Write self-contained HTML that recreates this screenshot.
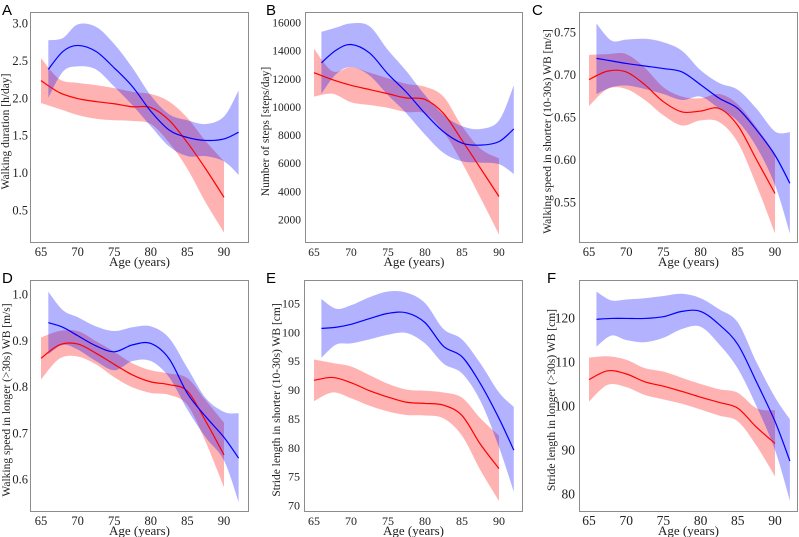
<!DOCTYPE html>
<html><head><meta charset="utf-8"><style>
body{margin:0;background:#fff}
svg{display:block}
text{font-family:"Liberation Serif",serif;fill:#222}
.lt{font-family:"Liberation Sans",sans-serif;font-size:15px;fill:#000}
</style></head><body>
<svg id="fig" width="799" height="537" viewBox="0 0 799 537" xmlns="http://www.w3.org/2000/svg"></svg>
<script>
const redAge=[65,67.5,70,72.5,75,77.5,80,82.5,85,87.5,90];
const blueAge=[66,68,70,72.5,75,77.5,80,82.5,85,87.5,90,92];
const xTicks=[65,70,75,80,85,90];

const aRedMean=[2.23,2.07,1.99,1.95,1.92,1.88,1.87,1.70,1.40,1.05,0.67];
const aRedLo=[1.93,1.85,1.77,1.72,1.70,1.69,1.65,1.40,1.05,0.60,0.20];
const aRedHi=[2.53,2.25,2.20,2.17,2.13,2.08,2.05,1.95,1.73,1.42,1.15];
const aBlueMean=[2.38,2.62,2.70,2.62,2.40,2.15,1.82,1.57,1.47,1.43,1.45,1.54];
const aBlueLo=[2.0,2.35,2.42,2.38,2.15,1.90,1.62,1.35,1.22,1.22,1.15,0.97];
const aBlueHi=[2.77,2.80,2.98,2.95,2.72,2.40,2.03,1.78,1.70,1.65,1.75,2.10];
const aTicks=[0.5,1.0,1.5,2.0,2.5,3.0];

const bRedMean=[12400,11900,11500,11200,10900,10600,10500,9500,7600,5600,3600];
const bRedLo=[10700,10900,10300,10100,9900,9600,9500,8200,6000,3500,900];
const bRedHi=[14100,12500,12800,12400,12000,11600,11400,10700,8600,7000,6300];
const bBlueMean=[13100,14000,14400,13800,12300,11000,9500,8200,7400,7250,7500,8400];
const bBlueLo=[10900,12300,12800,12200,10800,9500,8000,6700,6100,6000,5900,5200];
const bBlueHi=[15300,15600,15900,15700,14000,12500,10800,9400,8600,8400,9000,11500];
const bTicks=[2000,4000,6000,8000,10000,12000,14000,16000];

const cRedMean=[0.694,0.704,0.703,0.688,0.668,0.656,0.657,0.660,0.640,0.600,0.560];
const cRedLo=[0.663,0.683,0.683,0.670,0.652,0.640,0.646,0.644,0.620,0.570,0.513];
const cRedHi=[0.723,0.724,0.724,0.708,0.685,0.674,0.672,0.677,0.665,0.638,0.607];
const cBlueMean=[0.719,0.716,0.713,0.710,0.707,0.703,0.688,0.672,0.660,0.635,0.605,0.572];
const cBlueLo=[0.677,0.685,0.687,0.683,0.677,0.670,0.674,0.660,0.645,0.615,0.570,0.513];
const cBlueHi=[0.760,0.740,0.741,0.742,0.738,0.728,0.705,0.690,0.682,0.660,0.633,0.632];
const cTicks=[0.55,0.60,0.65,0.70,0.75];

const dRedMean=[0.861,0.890,0.892,0.872,0.848,0.825,0.810,0.804,0.790,0.725,0.652];
const dRedLo=[0.815,0.860,0.865,0.848,0.820,0.798,0.786,0.782,0.760,0.680,0.582];
const dRedHi=[0.906,0.920,0.920,0.898,0.875,0.850,0.835,0.828,0.818,0.770,0.722];
const dBlueMean=[0.938,0.928,0.910,0.888,0.875,0.890,0.893,0.860,0.785,0.735,0.690,0.645];
const dBlueLo=[0.870,0.890,0.880,0.855,0.835,0.855,0.855,0.820,0.750,0.690,0.640,0.550];
const dBlueHi=[1.005,0.965,0.950,0.930,0.920,0.928,0.930,0.905,0.840,0.775,0.745,0.742];
const dTicks=[0.6,0.7,0.8,0.9,1.0];

const eRedMean=[91.6,92.1,91.2,89.8,88.7,87.8,87.6,87.3,85.5,80.5,76.3];
const eRedLo=[88.0,89.5,88.5,87.2,86.2,85.6,85.5,85.0,82.0,76.0,70.7];
const eRedHi=[95.2,94.6,94.0,92.5,91.0,90.0,89.8,89.5,88.6,85.0,82.0];
const eBlueMean=[100.6,100.8,101.3,102.3,103.2,103.3,101.6,97.5,95.7,91.0,85.0,79.5];
const eBlueLo=[95.5,97.8,98.0,98.7,99.5,99.8,98.0,94.5,92.8,88.0,80.0,72.3];
const eBlueHi=[105.7,104.0,104.6,106.0,107.0,106.8,105.0,100.5,98.7,94.5,89.5,87.0];
const eTicks=[70,75,80,85,90,95,100,105];

const fRedMean=[106.0,108.0,107.3,105.5,104.5,103.3,102.0,100.8,99.5,95.2,91.5];
const fRedLo=[101.0,104.8,104.3,102.5,101.5,100.5,99.2,97.8,96.5,91.0,84.0];
const fRedHi=[111.0,111.3,110.5,108.6,107.8,106.4,105.0,103.8,103.0,99.5,99.0];
const fBlueMean=[119.7,119.9,119.9,119.9,120.3,121.5,121.5,118.5,114.0,105.5,96.5,87.5];
const fBlueLo=[113.5,116.0,115.0,114.5,115.5,117.5,118.0,114.0,108.5,100.0,90.0,78.5];
const fBlueHi=[126.0,124.0,124.2,124.5,125.0,125.5,124.5,122.0,119.0,110.0,102.0,97.0];
const fTicks=[80,90,100,110,120];

const NS='http://www.w3.org/2000/svg';
const svg=document.getElementById('fig');
function mk(tag,attrs,parent){const e=document.createElementNS(NS,tag);for(const k in attrs)e.setAttribute(k,attrs[k]);(parent||svg).appendChild(e);return e;}
function smooth(pts){let d='M'+pts[0][0].toFixed(2)+','+pts[0][1].toFixed(2);
 for(let i=0;i<pts.length-1;i++){const p0=pts[Math.max(0,i-1)],p1=pts[i],p2=pts[i+1],p3=pts[Math.min(pts.length-1,i+2)];
  const c1=[p1[0]+(p2[0]-p0[0])/6,p1[1]+(p2[1]-p0[1])/6],c2=[p2[0]-(p3[0]-p1[0])/6,p2[1]-(p3[1]-p1[1])/6];
  d+=' C'+c1.map(v=>v.toFixed(2))+' '+c2.map(v=>v.toFixed(2))+' '+p2.map(v=>v.toFixed(2));}
 return d;}

const panels=[
 {id:'a',letter:'A',lxl:2,gap:2,L:30,R:249,T:12,B:243,x65:41,x90:224,v1:0.5,p1:210,v2:3.0,p2:23,ticks:aTicks,fmt:v=>v.toFixed(1),ylab:'Walking duration [h/day]',bx:9,fs:12.5,
  rm:aRedMean,rl:aRedLo,rh:aRedHi,bm:aBlueMean,bl:aBlueLo,bh:aBlueHi},
 {id:'b',letter:'B',lxl:266,gap:4,L:305,R:523,T:12,B:243,x65:314,x90:499,v1:2000,p1:219,v2:16000,p2:22,ticks:bTicks,fmt:v=>String(v),ylab:'Number of steps [steps/day]',bx:269,fs:11.5,
  rm:bRedMean,rl:bRedLo,rh:bRedHi,bm:bBlueMean,bl:bBlueLo,bh:bBlueHi},
 {id:'c',letter:'C',lxl:532,gap:3,L:579,R:798,T:12,B:243,x65:589,x90:775,v1:0.55,p1:202,v2:0.75,p2:32,ticks:cTicks,fmt:v=>v.toFixed(2),ylab:'Walking speed in shorter (10-30s) WB [m/s]',bx:551,fs:12.5,
  rm:cRedMean,rl:cRedLo,rh:cRedHi,bm:cBlueMean,bl:cBlueLo,bh:cBlueHi},
 {id:'d',letter:'D',lxl:2,gap:2,L:30,R:249,T:280,B:512,x65:41,x90:224,v1:0.6,p1:479,v2:1.0,p2:294,ticks:dTicks,fmt:v=>v.toFixed(1),ylab:'Walking speed in longer (>30s) WB [m/s]',bx:10,fs:12.5,
  rm:dRedMean,rl:dRedLo,rh:dRedHi,bm:dBlueMean,bl:dBlueLo,bh:dBlueHi},
 {id:'e',letter:'E',lxl:266,gap:4,L:304,R:523,T:280,B:512,x65:314,x90:499,v1:70,p1:505,v2:105,p2:303,ticks:eTicks,fmt:v=>String(v),ylab:'Stride length in shorter (10-30s) WB [cm]',bx:280,fs:12,
  rm:eRedMean,rl:eRedLo,rh:eRedHi,bm:eBlueMean,bl:eBlueLo,bh:eBlueHi},
 {id:'f',letter:'F',lxl:547,gap:4,L:579,R:798,T:280,B:512,x65:589,x90:775,v1:80,p1:494,v2:120,p2:318,ticks:fTicks,fmt:v=>String(v),ylab:'Stride length in longer (>30s) WB [cm]',bx:555,fs:13.5,
  rm:fRedMean,rl:fRedLo,rh:fRedHi,bm:fBlueMean,bl:fBlueLo,bh:fBlueHi}
];

panels.forEach(p=>{
 const g=mk('g',{});
 
 
 const xs=a=>p.x65+(a-65)*(p.x90-p.x65)/25;
 const ys=v=>p.p1+(v-p.v1)*(p.p2-p.p1)/(p.v2-p.v1);
 const clipId='clip'+p.id;
 const cp=mk('clipPath',{id:clipId},g);mk('rect',{x:p.L,y:p.T,width:p.R-p.L,height:p.B-p.T},cp);
 const plot=mk('g',{'clip-path':'url(#'+clipId+')'},g);
 function band(ages,lo,hi,col,name){
  const up=ages.map((a,i)=>[xs(a),ys(hi[i])]);
  const dn=ages.map((a,i)=>[xs(a),ys(lo[i])]).reverse();
  const d=smooth(up)+' L'+dn[0][0].toFixed(2)+','+dn[0][1].toFixed(2)+' '+smooth(dn).slice(1).replace(/^[^C]*/,'')+' Z';
  const el=mk('path',{d:d,fill:col,'fill-opacity':0.3,stroke:'none'},plot);
  
  
 }
 function line(ages,m,col,name){
  const el=mk('path',{d:smooth(ages.map((a,i)=>[xs(a),ys(m[i])])),fill:'none',stroke:col,'stroke-width':1.2},plot);
  
  
 }
 band(redAge,p.rl,p.rh,'#ff0000','red-ci-band');
 band(blueAge,p.bl,p.bh,'#0000ff','blue-ci-band');
 line(redAge,p.rm,'#ff0000','red-mean-line');
 line(blueAge,p.bm,'#0000ff','blue-mean-line');
 const fr=mk('rect',{x:p.L+0.5,y:p.T+0.5,width:p.R-p.L-1,height:p.B-p.T-1,fill:'none',stroke:'#8c8c8c','stroke-width':1},g);
 
 
 xTicks.forEach(t=>{
  const tx=mk('text',{x:xs(t),y:p.B+13,'text-anchor':'middle','font-size':p.fs},g);
  tx.textContent=t;
  
  
 });
 p.ticks.forEach(t=>{
  const tx=mk('text',{x:p.L-p.gap,y:ys(t)+4.5,'text-anchor':'end','font-size':p.fs},g);
  tx.textContent=p.fmt(t);
  
  
 });
 const xl=mk('text',{x:(p.L+p.R)/2,y:p.B+23,'text-anchor':'middle','font-size':13},g);
 xl.textContent='Age (years)';
 
 
 const cy=(p.T+p.B)/2+4;
 const yl=mk('text',{x:p.bx,y:cy,'text-anchor':'middle','font-size':11.5,transform:'rotate(-90 '+p.bx+' '+cy+')'},g);
 yl.textContent=p.ylab;
 
 
 const lt=mk('text',{x:p.lxl,y:p.T+3,'class':'lt'},g);
 lt.textContent=p.letter;
 
 
});
</script>
</body></html>
